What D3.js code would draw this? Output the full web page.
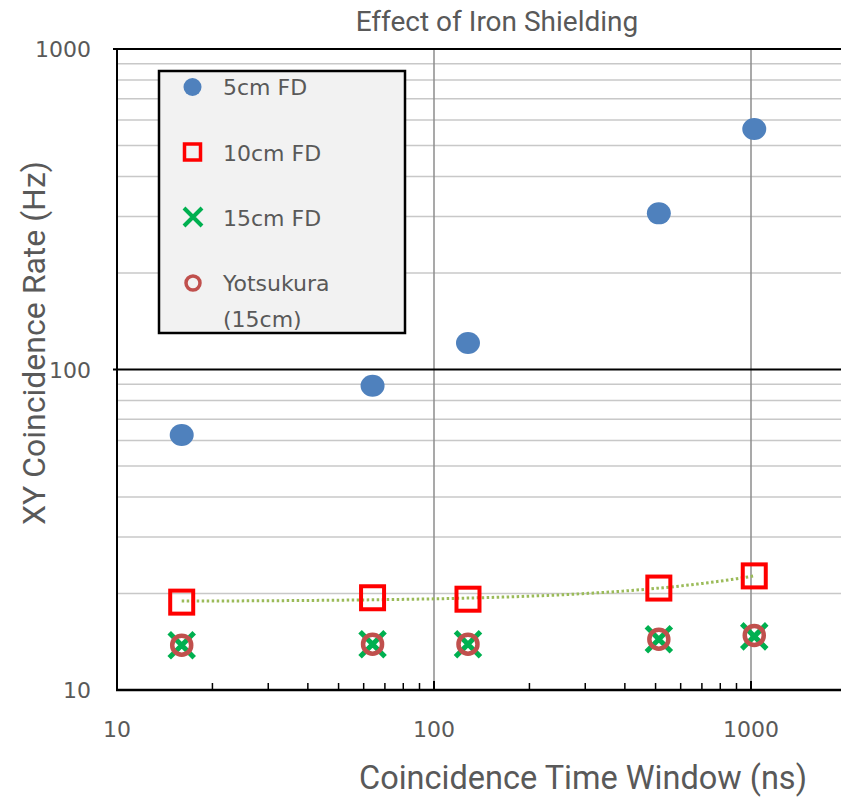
<!DOCTYPE html>
<html><head><meta charset="utf-8">
<script src="https://cdn.jsdelivr.net/npm/d3@7"></script>
<style>body{margin:0;background:#fff}svg{display:block}</style>
</head><body>
<svg id="c" width="841" height="798"></svg>
<script>
const windows = [16, 64, 128, 512, 1024];
const fd5 = [62.5, 89, 121, 307, 563];
const fd10 = [18.8, 19.4, 19.2, 20.8, 22.7];
const fd15 = [13.8, 13.9, 13.9, 14.4, 14.7];
const yotsukura = [13.8, 13.9, 13.9, 14.4, 14.8];
const xTickLabels = [10, 100, 1000];
const yTickLabels = [10, 100, 1000];

const svg = d3.select("#c");
const L = 117, R = 841, T = 49, B = 690;
const x = d3.scaleLog().domain([10, 1000]).range([L, 751]);
const y = d3.scaleLog().domain([10, 1000]).range([B, T]);
const txt = "#595959";
const titleFont = "Roboto, sans-serif";

// minor horizontal gridlines
const yMinor = [];
[10, 100].forEach(d => { for (let k = 2; k <= 9; k++) yMinor.push(d * k); });
svg.append("g").selectAll("line").data(yMinor).join("line")
  .attr("x1", L).attr("x2", R).attr("y1", d => y(d)).attr("y2", d => y(d))
  .attr("stroke", "#c8c8c8").attr("stroke-width", 1.5);
// vertical major gridlines
svg.append("g").selectAll("line").data([100, 1000]).join("line")
  .attr("x1", d => x(d)).attr("x2", d => x(d)).attr("y1", T).attr("y2", B)
  .attr("stroke", "#8c8c8c").attr("stroke-width", 1.5);
// horizontal major gridlines
svg.append("g").selectAll("line").data([100, 1000]).join("line")
  .attr("x1", L - 4).attr("x2", R).attr("y1", d => y(d)).attr("y2", d => y(d))
  .attr("stroke", "#000").attr("stroke-width", 2);

// axes lines
svg.append("line").attr("x1", L).attr("x2", L).attr("y1", T).attr("y2", B + 1).attr("stroke", "#000").attr("stroke-width", 2);
svg.append("line").attr("x1", L - 1).attr("x2", R).attr("y1", B).attr("y2", B).attr("stroke", "#000").attr("stroke-width", 2.5);

// x minor ticks (inside)
const xMinor = [];
[10, 100, 1000].forEach(d => { for (let k = 2; k <= 9; k++) if (d * k < 2100) xMinor.push(d * k); });
svg.append("g").selectAll("line").data(xMinor).join("line")
  .attr("x1", d => x(d)).attr("x2", d => x(d)).attr("y1", B).attr("y2", B - 7)
  .attr("stroke", "#000").attr("stroke-width", 1.5);
svg.append("g").selectAll("line").data([100, 1000]).join("line")
  .attr("x1", d => x(d)).attr("x2", d => x(d)).attr("y1", B).attr("y2", B - 9)
  .attr("stroke", "#000").attr("stroke-width", 2);

// tick labels
svg.append("g").selectAll("text").data(xTickLabels).join("text")
  .attr("x", d => x(d)).attr("y", 737).attr("text-anchor", "middle")
  .attr("font-family", "DejaVu Sans").attr("font-size", 22).attr("fill", txt).text(d => d);
svg.append("g").selectAll("text").data(yTickLabels).join("text")
  .attr("x", 91).attr("y", d => y(d) + 8).attr("text-anchor", "end")
  .attr("font-family", "DejaVu Sans").attr("font-size", 22).attr("fill", txt).text(d => d);

// titles
svg.append("text").attr("x", 497).attr("y", 31).attr("text-anchor", "middle")
  .attr("font-family", titleFont).attr("font-size", 28).attr("fill", txt)
  .text("Effect of Iron Shielding");
svg.append("text").attr("x", 583).attr("y", 789).attr("text-anchor", "middle")
  .attr("font-family", titleFont).attr("font-size", 32.5).attr("fill", txt)
  .text("Coincidence Time Window (ns)");
svg.append("text").attr("transform", "translate(45,343) rotate(-90)").attr("text-anchor", "middle")
  .attr("font-family", titleFont).attr("font-size", 32).attr("fill", txt)
  .text("XY Coincidence Rate (Hz)");

// linear trendline for 10cm FD (least squares)
const mx = d3.mean(windows), my = d3.mean(fd10);
const b = d3.sum(windows.map((w, i) => (w - mx) * (fd10[i] - my))) / d3.sum(windows.map(w => (w - mx) ** 2));
const a = my - b * mx;
const tx = d3.range(0, 101).map(i => Math.pow(10, Math.log10(16) + i / 100 * (Math.log10(1024) - Math.log10(16))));
svg.append("path").datum(tx)
  .attr("d", d3.line().x(d => x(d)).y(d => y(a + b * d)))
  .attr("fill", "none").attr("stroke", "#9bbb59").attr("stroke-width", 3).attr("stroke-dasharray", "2.5 2.5");

// series
function drawCircleFill(g, cx, cy) { g.append("ellipse").attr("cx", cx).attr("cy", cy).attr("rx", 12).attr("ry", 11).attr("fill", "#4f81bd"); }
function drawSquare(g, cx, cy) { g.append("rect").attr("x", cx - 11.5).attr("y", cy - 11.5).attr("width", 23).attr("height", 23).attr("fill", "none").attr("stroke", "#ff0000").attr("stroke-width", 4); }
function drawX(g, cx, cy) { const s = 12.5; g.append("path").attr("d", `M${cx-s},${cy-s}L${cx+s},${cy+s}M${cx-s},${cy+s}L${cx+s},${cy-s}`).attr("stroke", "#00b050").attr("stroke-width", 5).attr("fill", "none"); }
function drawRing(g, cx, cy) { g.append("circle").attr("cx", cx).attr("cy", cy).attr("r", 9.5).attr("fill", "none").attr("stroke", "#c0504d").attr("stroke-width", 4.5); }

const gs = svg.append("g");
windows.forEach((w, i) => drawCircleFill(gs, x(w), y(fd5[i])));
windows.forEach((w, i) => drawSquare(gs, x(w), y(fd10[i])));
windows.forEach((w, i) => drawX(gs, x(w), y(fd15[i])));
windows.forEach((w, i) => drawRing(gs, x(w), y(yotsukura[i])));

// legend
const lg = svg.append("g");
lg.append("rect").attr("x", 159).attr("y", 71).attr("width", 246).attr("height", 262)
  .attr("fill", "#f2f2f2").attr("stroke", "#000").attr("stroke-width", 2.5);
const lf = { "font-family": "DejaVu Sans", "font-size": 22, "fill": txt };
function ltxt(xx, yy, s) { const t = lg.append("text").attr("x", xx).attr("y", yy).text(s); Object.entries(lf).forEach(([k, v]) => t.attr(k, v)); }
lg.append("circle").attr("cx", 192.5).attr("cy", 87).attr("r", 9).attr("fill", "#4f81bd");
ltxt(223, 95, "5cm FD");
lg.append("rect").attr("x", 184.5).attr("y", 144).attr("width", 16).attr("height", 16).attr("fill", "none").attr("stroke", "#ff0000").attr("stroke-width", 3.5);
ltxt(223, 161, "10cm FD");
lg.append("path").attr("d", "M184,208L202,226M184,226L202,208").attr("stroke", "#00b050").attr("stroke-width", 4);
ltxt(223, 226, "15cm FD");
lg.append("circle").attr("cx", 193).attr("cy", 283).attr("r", 7).attr("fill", "none").attr("stroke", "#c0504d").attr("stroke-width", 3.5);
ltxt(223, 291, "Yotsukura");
ltxt(223, 327, "(15cm)");
</script>
</body></html>
